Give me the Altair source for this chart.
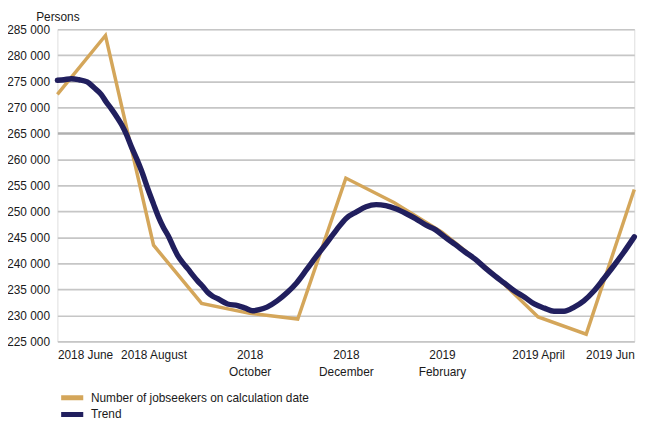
import json
import altair as alt
import pandas as pd

# ---- data ----
SERIES = ["Number of jobseekers on calculation date", "Trend"]
COLORS = ["#D4A65A", "#211F5E"]

MONTH_LABELS = [["2018 June"], ["2018 August"], ["2018", "October"], ["2018", "December"],
                ["2019", "February"], ["2019 April"], ["2019 Jun"]]
TICK_VALUES = [0, 2, 4, 6, 8, 10, 12]
Y_TICKS = list(range(225000, 285001, 5000))

# months since June 2018
JOBSEEKERS_MONTH = list(range(13))
JOBSEEKERS = [272500, 283800, 243500, 232300, 230400, 229300, 256400,
              251700, 246000, 238600, 229700, 226400, 254200]

TREND_MONTH = [0, 0.14, 0.29, 0.45, 0.62, 0.76, 0.91, 1.01, 1.13, 1.24,
               1.34, 1.44, 1.54, 1.65, 1.75, 1.89, 2.0, 2.1, 2.2, 2.31,
               2.41, 2.51, 2.61, 2.72, 2.82, 2.92, 3.03, 3.13, 3.23, 3.34,
               3.54, 3.75, 3.91, 4.06, 4.2, 4.36, 4.57, 4.78, 4.98, 5.19,
               5.39, 5.6, 5.81, 6.01, 6.22, 6.42, 6.63, 6.83, 7.04, 7.25,
               7.45, 7.66, 7.86, 8.07, 8.28, 8.48, 8.69, 8.89, 9.1, 9.3,
               9.51, 9.72, 9.92, 10.13, 10.33, 10.54, 10.75, 10.95, 11.16, 11.36,
               11.57, 11.77, 12.0]
TREND = [275200, 275300, 275500, 275300, 274900, 273800, 272500, 271100, 269600, 268100,
         266600, 264700, 262400, 260100, 257800, 254100, 251400, 249000, 247000, 245200,
         243200, 241400, 240100, 238900, 237700, 236600, 235500, 234400, 233700, 233200,
         232200, 231900, 231400, 230900, 231100, 231600, 232800, 234400, 236300, 238900,
         241400, 243900, 246500, 248700, 249900, 250900, 251300, 251100, 250500, 249600,
         248600, 247400, 246500, 245000, 243600, 242200, 240800, 239200, 237600, 236200,
         234700, 233500, 232200, 231400, 230800, 230800, 231600, 232800, 234700, 237000,
         239500, 242000, 245100]

df_gold = pd.DataFrame({"m": JOBSEEKERS_MONTH, "v": JOBSEEKERS, "s": SERIES[0]})
df_trend = pd.DataFrame({"m": TREND_MONTH, "v": TREND, "s": SERIES[1]})

label_expr = json.dumps(MONTH_LABELS) + "[round(datum.value / 2)]"

x = alt.X("m:Q",
          scale=alt.Scale(domain=[0, 12], nice=False, zero=False),
          axis=alt.Axis(values=TICK_VALUES, labelExpr=label_expr, title=None, grid=False,
                        domain=False, ticks=False, tickSize=0, labelPadding=8,
                        labelLineHeight=17, labelFontSize=12, labelColor="#1a1a1a",
                        labelOverlap=False))
y = alt.Y("v:Q",
          scale=alt.Scale(domain=[225000, 285000], nice=False, zero=False),
          axis=alt.Axis(values=Y_TICKS,
                        labelExpr="replace(format(datum.value, ','), ',', ' ')",
                        title="Persons", titleAngle=0, titleX=0, titleY=-13,
                        titleAlign="center", titleBaseline="middle",
                        titleFontWeight="normal", titleFontSize=12, titleColor="#1a1a1a",
                        domain=False, ticks=False, tickSize=0, labelPadding=8,
                        labelFontSize=12, labelColor="#1a1a1a",
                        gridColor={"condition": {"test": "datum.value === 265000",
                                                 "value": "#b0b0b0"},
                                   "value": "#c6c6c6"},
                        gridWidth={"condition": {"test": "datum.value === 265000",
                                                 "value": 2.6},
                                   "value": 1.7}))
color = alt.Color("s:N",
                  scale=alt.Scale(domain=SERIES, range=COLORS),
                  legend=alt.Legend(title=None, orient="none", legendX=1, legendY=366,
                                    direction="vertical", symbolType="stroke",
                                    symbolSize=500, symbolStrokeWidth=5,
                                    labelFontSize=12, labelOffset=5, rowPadding=3,
                                    clipHeight=14, labelLimit=0, labelColor="#1a1a1a"))

gold = alt.Chart(df_gold).mark_line(strokeWidth=3.5, strokeJoin="miter").encode(
    x=x, y=y, color=color)
trend = alt.Chart(df_trend).mark_line(strokeWidth=5.5, strokeCap="round",
                                      interpolate="monotone").encode(
    x=x, y=y, color=color)

chart = alt.layer(gold, trend).properties(
    width=584, height=316,
    padding={"left": 50, "top": 19, "right": 24, "bottom": 79},
    autosize=alt.AutoSizeParams(type="none"),
).configure_view(stroke=None).configure(font="Liberation Sans")

chart.save("out.html", embed_options={"renderer": "svg", "actions": False})
